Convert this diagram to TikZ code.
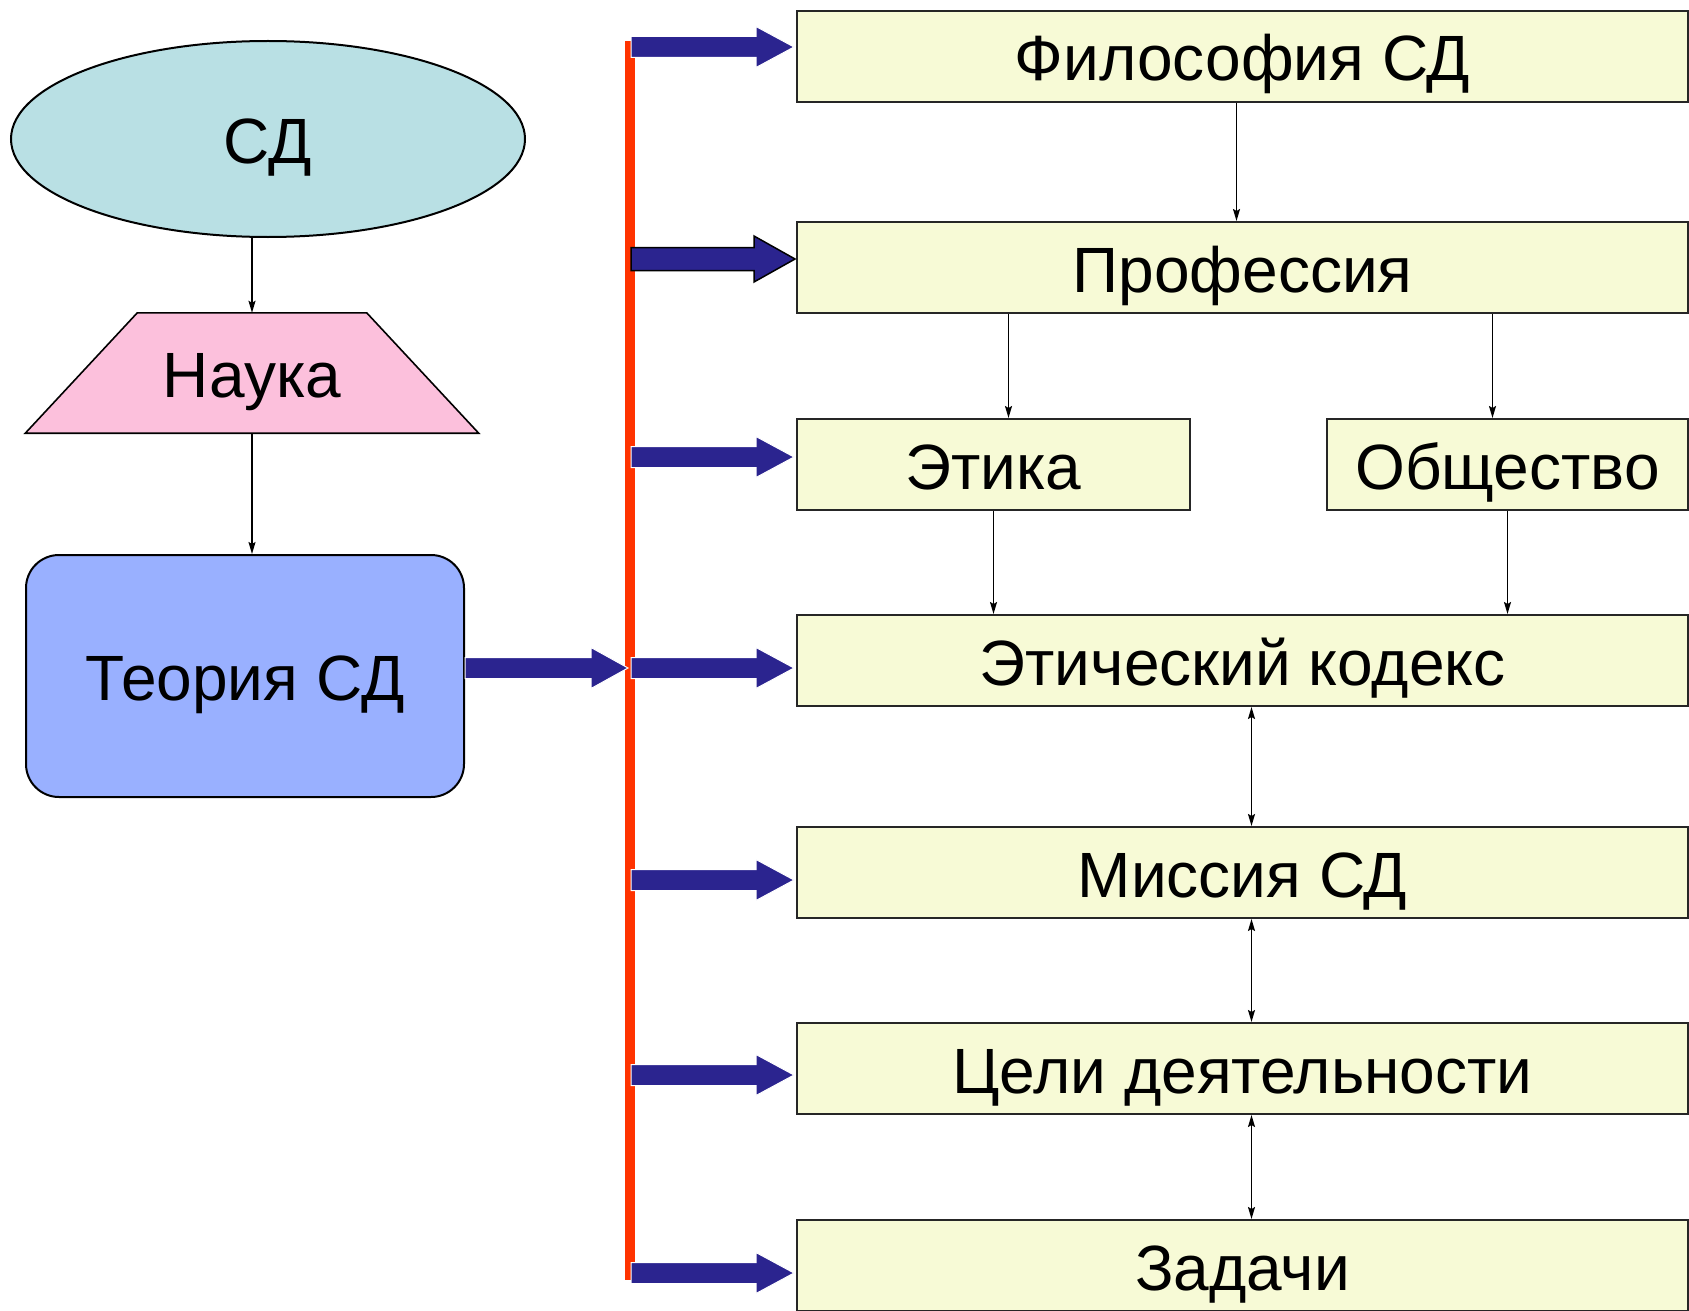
\documentclass[tikz,border=0pt]{standalone}
\usepackage{fontspec}
\setmainfont{Liberation Sans}
\usetikzlibrary{shapes.geometric,arrows.meta,calc,backgrounds}
\definecolor{ellfill}{RGB}{185,224,228}
\definecolor{pinkfill}{RGB}{252,192,220}
\definecolor{theofill}{RGB}{153,176,255}
\definecolor{boxfill}{RGB}{247,250,214}
\definecolor{redline}{RGB}{255,51,0}
\definecolor{arrblue}{RGB}{43,36,143}
\newcommand\fatarr[6][]{%
  \draw[fatarrow,#1] let \p1=(#2), \p2=(#3) in
  (\x1,\y2+#4pt) -- (\x2-#6pt,\y2+#4pt) -- (\x2-#6pt,\y2+#5pt) -- (\x2,\y2)
  -- (\x2-#6pt,\y2-#5pt) -- (\x2-#6pt,\y2-#4pt) -- (\x1,\y2-#4pt) -- cycle;}
\begin{document}
\begin{tikzpicture}[x=1pt,y=-1pt,
  every node/.style={font=\fontsize{64}{76}\selectfont, inner sep=0pt, text height=49pt, text depth=0pt},
  ybox/.style={draw=black!85, line width=2pt, fill=boxfill, rectangle, minimum height=91pt},
  thin/.style={line width=1.5pt, -{Stealth[length=12pt,width=7pt,inset=2pt]}},
  thinboth/.style={line width=1.5pt, {Stealth[length=12pt,width=7pt,inset=2pt]}-{Stealth[length=12pt,width=7pt,inset=2pt]}},
  fatarrow/.style={fill=arrblue, draw=white, line width=1pt},
  redbar/.style={draw=redline, line width=10pt}
]
\useasboundingbox (0,0) rectangle (1689,1311);

% left column
\node[ellipse, draw, line width=2pt, fill=ellfill, minimum width=514pt, minimum height=196pt] (sd) at (268,139) {СД};
\node[minimum width=453pt, minimum height=120pt] (nauka) at (252,373) {Наука};
\begin{scope}[on background layer]
  \draw[line width=1.6pt, fill=pinkfill] (nauka.south west) -- (nauka.south east)
    -- ([xshift=-112pt]nauka.north east) -- ([xshift=112pt]nauka.north west) -- cycle;
\end{scope}
\node[draw, line width=2pt, fill=theofill, rounded corners=33pt, minimum width=438pt, minimum height=242pt] (theory) at (245,676) {Теория СД};

% right column
\node[ybox, minimum width=891pt] (phil) at (1242.5,56.5) {Философия СД};
\node[ybox, minimum width=891pt] (prof) at (1242.5,267.5) {Профессия};
\node[ybox, minimum width=393pt] (ethics) at (993.5,464.5) {Этика};
\node[ybox, minimum width=361pt] (society) at (1507.5,464.5) {Общество};
\node[ybox, minimum width=891pt] (codex) at (1242.5,660.5) {Этический кодекс};
\node[ybox, minimum width=891pt] (mission) at (1242.5,872.5) {Миссия СД};
\node[ybox, minimum width=891pt] (goals) at (1242.5,1068.5) {Цели деятельности};
\node[ybox, minimum width=891pt] (tasks) at (1242.5,1265.5) {Задачи};

% thin connectors
\draw[thin] (nauka.north |- sd.south) -- (nauka.north);
\draw[thin] (nauka.south) -- (nauka.south |- theory.north);
\draw[thin] ([xshift=-6pt]phil.south) -- ([xshift=-6pt]prof.north);
\draw[thin] ([xshift=15pt]ethics.north |- prof.south) -- ([xshift=15pt]ethics.north);
\draw[thin] ([xshift=-15pt]society.north |- prof.south) -- ([xshift=-15pt]society.north);
\draw[thin] (ethics.south) -- (ethics.south |- codex.north);
\draw[thin] (society.south) -- (society.south |- codex.north);
\draw[thinboth] ([xshift=9pt]codex.south) -- ([xshift=9pt]mission.north);
\draw[thinboth] ([xshift=9pt]mission.south) -- ([xshift=9pt]goals.north);
\draw[thinboth] ([xshift=9pt]goals.south) -- ([xshift=9pt]tasks.north);

% red bar
\coordinate (redtop) at (630,41);
\coordinate (redbot) at (630,1280);
\coordinate (redstart) at (631,41);
\coordinate (redhit) at (628,668);
\draw[redbar] (redtop) -- (redbot);

% fat arrows
\fatarr{theory.east}{redhit}{10.5}{20.5}{37}
\fatarr{redstart}{[xshift=-2pt,yshift=9.5pt]phil.west}{10.5}{20.5}{38}
\fatarr[draw=black, line width=1.5pt]{redstart}{[xshift=-1pt,yshift=8.5pt]prof.west}{11.5}{23}{41}
\fatarr{redstart}{[xshift=-2pt,yshift=7.5pt]ethics.west}{10.5}{20.5}{38}
\fatarr{redstart}{[xshift=-2pt,yshift=-7.5pt]codex.west}{10.5}{20.5}{38}
\fatarr{redstart}{[xshift=-2pt,yshift=-7.5pt]mission.west}{10.5}{20.5}{38}
\fatarr{redstart}{[xshift=-2pt,yshift=-6.5pt]goals.west}{10.5}{20.5}{38}
\fatarr{redstart}{[xshift=-2pt,yshift=-7.5pt]tasks.west}{10.5}{20.5}{38}
\end{tikzpicture}
\end{document}
